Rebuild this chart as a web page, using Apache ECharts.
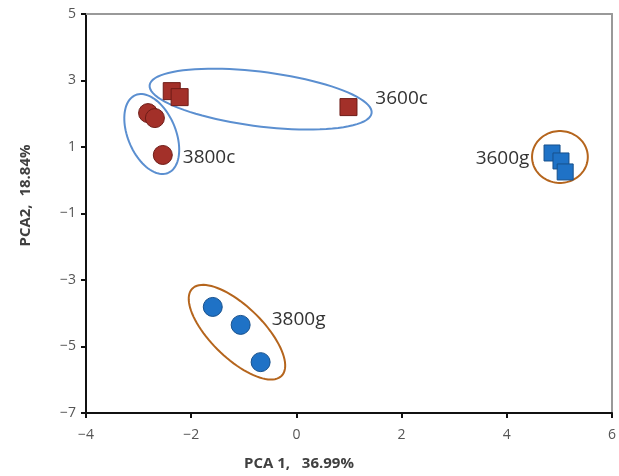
<!DOCTYPE html>
<html>
<head>
<meta charset="utf-8">
<script src="https://cdn.jsdelivr.net/npm/echarts@6/dist/echarts.min.js"></script>
<style>
  html, body { margin: 0; background: #fff; }
  #chart { width: 619px; height: 476px; }
</style>
</head>
<body>
<div id="chart"></div>
<script>
// PCA scores per group [PCA1, PCA2]
const sq3600c = [[-2.37, 2.68], [-2.22, 2.50], [0.99, 2.20]];
const ci3800c = [[-2.82, 2.02], [-2.69, 1.87], [-2.54, 0.76]];
const sq3600g = [[4.86, 0.82], [5.03, 0.58], [5.11, 0.25]];
const ci3800g = [[-1.59, -3.81], [-1.06, -4.35], [-0.68, -5.47]];

// group outlines: [centreX, centreY, majorEndX, majorEndY, minorHalfY]
const ellipses = [
  [-0.68, 2.44, 1.43, 2.02, 0.82],
  [-2.75, 1.39, -2.44, 0.22, 0.72],
  [5.01, 0.70, 5.54, 0.70, 0.78],
  [-1.13, -4.57, -0.28, -5.88, 0.78]
];
const ellipseColors = ['#5b8fd0', '#5b8fd0', '#b5651d', '#b5651d'];

// group labels
const labelNames = ['3600c', '3800c', '3600g', '3800g'];
const labelPos = [[1.50, 2.47], [-2.16, 0.67], [4.43, 0.64], [-0.47, -4.20]];
const labelAlign = ['left', 'left', 'right', 'left'];

const xTicks = { min: -4, max: 6, interval: 2 };
const yTicks = { min: -7, max: 5, interval: 2 };

const red = '#a33029', redEdge = '#6e1c17';
const blue = '#1f72c6', blueEdge = '#17508c';

const chart = echarts.init(document.getElementById('chart'));

function ellipseItem(params, api) {
  const p0 = api.coord([api.value(0), api.value(1)]);
  const p1 = api.coord([api.value(2), api.value(3)]);
  const dx = p1[0] - p0[0], dy = p1[1] - p0[1];
  const a = Math.sqrt(dx * dx + dy * dy);
  const b = api.size([0, api.value(4)])[1];
  const ang = Math.atan2(dy, dx);
  const pts = [];
  for (let i = 0; i < 90; i++) {
    const t = i / 90 * Math.PI * 2;
    const ex = a * Math.cos(t), ey = b * Math.sin(t);
    pts.push([p0[0] + ex * Math.cos(ang) - ey * Math.sin(ang),
              p0[1] + ex * Math.sin(ang) + ey * Math.cos(ang)]);
  }
  return {
    type: 'polygon',
    shape: { points: pts },
    style: { fill: 'none', stroke: ellipseColors[params.dataIndex], lineWidth: 2 }
  };
}

function labelItem(params, api) {
  const p = api.coord([api.value(0), api.value(1)]);
  return {
    type: 'text',
    x: p[0],
    y: p[1],
    style: {
      text: labelNames[params.dataIndex],
      fill: '#333',
      fontSize: 19,
      fontFamily: '"Open Sans", sans-serif',
      align: labelAlign[params.dataIndex],
      verticalAlign: 'middle'
    }
  };
}

const minus = v => String(v).replace('-', '\u2212');
const axisText = { color: '#555', fontSize: 14, fontFamily: '"Open Sans", sans-serif', formatter: minus };
const titleText = { color: '#404040', fontSize: 15, fontWeight: 'bold', fontFamily: '"Open Sans", sans-serif' };

chart.setOption({
  animation: false,
  grid: { left: 86, right: 6, top: 14, bottom: 63 },
  xAxis: [
    {
      type: 'value', min: xTicks.min, max: xTicks.max, interval: xTicks.interval,
      name: 'PCA 1,   36.99%', nameLocation: 'middle', nameGap: 43,
      nameTextStyle: Object.assign({ padding: [0, 100, 0, 0] }, titleText),
      axisLine: { onZero: false, lineStyle: { color: '#111', width: 2 } },
      axisTick: { length: 5, lineStyle: { color: '#111', width: 2 } },
      axisLabel: Object.assign({ margin: 15 }, axisText),
      splitLine: { show: false }
    },
    {
      type: 'value', position: 'top', min: xTicks.min, max: xTicks.max,
      axisLine: { onZero: false, lineStyle: { color: '#999', width: 2 } },
      axisTick: { show: false }, axisLabel: { show: false }, splitLine: { show: false }
    }
  ],
  yAxis: [
    {
      type: 'value', min: yTicks.min, max: yTicks.max, interval: yTicks.interval,
      name: 'PCA2,  18.84%', nameLocation: 'middle', nameGap: 53,
      nameTextStyle: Object.assign({ padding: [0, 0, 0, 36] }, titleText),
      axisLine: { onZero: false, lineStyle: { color: '#111', width: 2 } },
      axisTick: { length: 5, lineStyle: { color: '#111', width: 2 } },
      axisLabel: Object.assign({ margin: 10 }, axisText),
      splitLine: { show: false }
    },
    {
      type: 'value', position: 'right', min: yTicks.min, max: yTicks.max,
      axisLine: { onZero: false, lineStyle: { color: '#999', width: 2 } },
      axisTick: { show: false }, axisLabel: { show: false }, splitLine: { show: false }
    }
  ],
  series: [
    { type: 'custom', renderItem: ellipseItem, data: ellipses, silent: true, z: 1 },
    {
      type: 'scatter', symbol: 'rect', symbolSize: 17, data: sq3600c, z: 3,
      itemStyle: { color: red, borderColor: redEdge, borderWidth: 1, opacity: 1 }
    },
    {
      type: 'scatter', symbol: 'circle', symbolSize: 19, data: ci3800c, z: 3,
      itemStyle: { color: red, borderColor: redEdge, borderWidth: 1, opacity: 1 }
    },
    {
      type: 'scatter', symbol: 'rect', symbolSize: 16, data: sq3600g, z: 3,
      itemStyle: { color: blue, borderColor: blueEdge, borderWidth: 1, opacity: 1 }
    },
    {
      type: 'scatter', symbol: 'circle', symbolSize: 19, data: ci3800g, z: 3,
      itemStyle: { color: blue, borderColor: blueEdge, borderWidth: 1, opacity: 1 }
    },
    { type: 'custom', renderItem: labelItem, data: labelPos, silent: true, z: 4 }
  ]
});
</script>
</body>
</html>
